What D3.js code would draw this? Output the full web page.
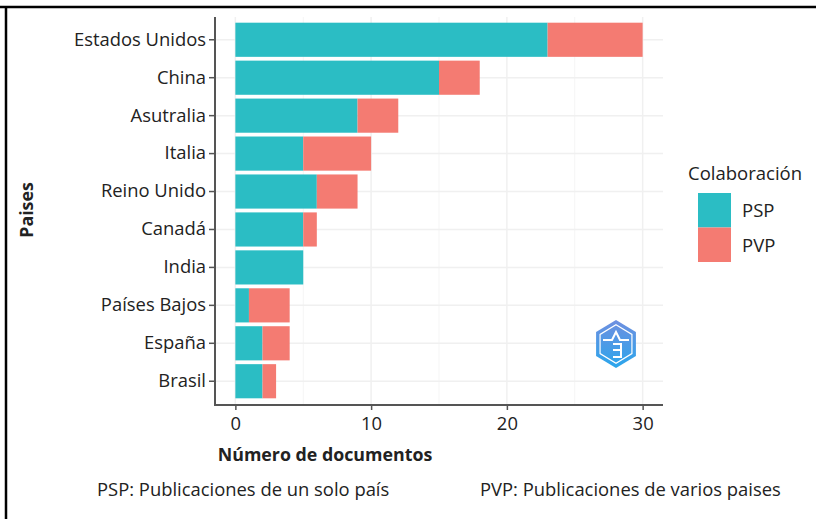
<!DOCTYPE html>
<html><head><meta charset="utf-8">
<script src="https://cdn.jsdelivr.net/npm/d3@7"></script>
<style>body{margin:0;background:#fff}svg{display:block}text{font-family:"Open Sans",sans-serif;fill:#222}</style>
</head><body><svg id="c" width="816" height="519"></svg>
<script>
const countries = ["Estados Unidos","China","Asutralia","Italia","Reino Unido","Canadá","India","Países Bajos","España","Brasil"];
const psp = [23,15,9,5,6,5,5,1,2,2];
const pvp = [7,3,3,5,3,1,0,3,2,1];
const seriesNames = ["PSP","PVP"];
const seriesColors = ["#2BBDC4","#F47B72"];
const xTicks = [0,10,20,30];
const xMinor = [5,15,25];

const svg = d3.select("#c");
const P = {l:215, r:663, t:17, b:404};
const FONT = "'Open Sans', sans-serif";
const FS = 18.4;

// frame
svg.append("line").attr("x1",0).attr("x2",816).attr("y1",7).attr("y2",7).attr("stroke","#000").attr("stroke-width",2.5);
svg.append("line").attr("x1",6).attr("x2",6).attr("y1",6).attr("y2",519).attr("stroke","#000").attr("stroke-width",2.5);

const x = d3.scaleLinear().domain([-1.5,31.5]).range([P.l,P.r]);
const y = d3.scaleBand().domain(countries).range([P.t,P.b]).paddingInner(0.1).paddingOuter(0.15);

// grid
const g = svg.append("g");
g.selectAll(".mn").data(xMinor).join("line").attr("x1",d=>x(d)).attr("x2",d=>x(d)).attr("y1",P.t).attr("y2",P.b).attr("stroke","#f5f5f5").attr("stroke-width",1);
g.selectAll(".mj").data(xTicks).join("line").attr("x1",d=>x(d)).attr("x2",d=>x(d)).attr("y1",P.t).attr("y2",P.b).attr("stroke","#f0f0f0").attr("stroke-width",1.5);
g.selectAll(".hy").data(countries).join("line").attr("x1",P.l).attr("x2",P.r).attr("y1",d=>y(d)+y.bandwidth()/2).attr("y2",d=>y(d)+y.bandwidth()/2).attr("stroke","#f0f0f0").attr("stroke-width",1.5);

// bars
const rows = countries.map((c,i)=>({c, PSP:psp[i], PVP:pvp[i]}));
const stack = d3.stack().keys(seriesNames)(rows);
svg.append("g").selectAll("g").data(stack).join("g").attr("fill",(d,i)=>seriesColors[i])
 .selectAll("rect").data(d=>d.filter(s=>s[1]>s[0])).join("rect")
 .attr("x",d=>x(d[0])).attr("width",d=>x(d[1])-x(d[0]))
 .attr("y",d=>y(d.data.c)).attr("height",y.bandwidth());

// logo
const lg = svg.append("g").attr("transform","translate(616,344)");
const defs = svg.append("defs");
const grad = defs.append("linearGradient").attr("id","lgg").attr("x1",0).attr("y1",0).attr("x2",0).attr("y2",1);
grad.append("stop").attr("offset",0).attr("stop-color","#6f8fe0");
grad.append("stop").attr("offset",1).attr("stop-color","#2aa6ec");
const hex = d3.range(6).map(k=>{const a=Math.PI/3*k-Math.PI/2;return [23*Math.cos(a),24*Math.sin(a)];});
lg.append("polygon").attr("points",hex.map(p=>p.join(",")).join(" ")).attr("fill","url(#lgg)");
const hex2 = hex.map(p=>[p[0]*0.8,p[1]*0.8]);
lg.append("polygon").attr("points",hex2.map(p=>p.join(",")).join(" ")).attr("fill","none").attr("stroke","#fff").attr("stroke-width",1.2);
lg.append("path").attr("d","M-13,-4 L-4,-4 L0,-12 L4,-4 L13,-4 M-3,0 L5,0 L5,13 L-3,13 M-3,6 L5,6").attr("stroke","#fff").attr("stroke-width",2).attr("fill","none");

// axes
const yAx = svg.append("g").attr("transform",`translate(${P.l},0)`).call(d3.axisLeft(y).tickSize(6).tickPadding(3));
yAx.select(".domain").attr("stroke","#555").attr("stroke-width",2).attr("d",`M0,${P.t}V${P.b+1}`);
yAx.selectAll(".tick line").attr("stroke","#555").attr("stroke-width",1.5);
yAx.selectAll(".tick text").attr("font-size",FS).attr("fill","#222").attr("font-family",FONT);

const xAx = svg.append("g").attr("transform",`translate(0,${P.b+1})`).call(d3.axisBottom(x).tickValues(xTicks).tickSize(5).tickPadding(7));
xAx.select(".domain").attr("stroke","#555").attr("stroke-width",2).attr("d",`M${P.l-1},0H${P.r}`);
xAx.selectAll(".tick line").attr("stroke","#555").attr("stroke-width",1.5);
xAx.selectAll(".tick text").attr("font-size",FS).attr("fill","#222").attr("font-family",FONT);

// titles
svg.append("text").attr("x",325).attr("y",461).attr("text-anchor","middle").attr("font-weight","bold").attr("font-size",17.8).text("Número de documentos");
svg.append("text").attr("transform","translate(33,210) rotate(-90)").attr("text-anchor","middle").attr("font-weight","bold").attr("font-size",17.8).text("Paises");

// legend
svg.append("text").attr("x",688).attr("y",180).attr("font-size",18.5).text("Colaboración");
seriesNames.forEach((s,i)=>{
  svg.append("rect").attr("x",698).attr("y",193+i*34.5).attr("width",33).attr("height",34.5).attr("fill",seriesColors[i]);
  svg.append("text").attr("x",742).attr("y",217+i*34.5).attr("font-size",18.5).text(s);
});

// footnotes
svg.append("text").attr("x",97).attr("y",496).attr("font-size",FS).text("PSP: Publicaciones de un solo país");
svg.append("text").attr("x",480).attr("y",496).attr("font-size",FS).text("PVP: Publicaciones de varios paises");
</script></body></html>
